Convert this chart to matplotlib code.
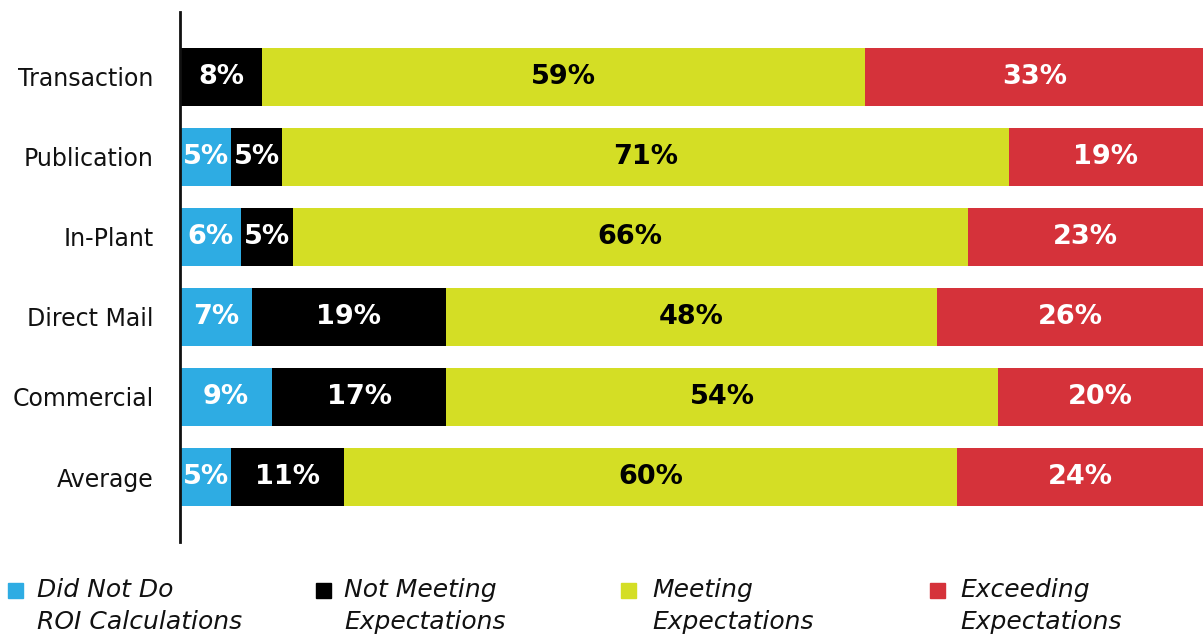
import matplotlib
matplotlib.use("Agg")
import matplotlib.pyplot as plt
from matplotlib.patches import Rectangle

categories = ["Transaction", "Publication", "In-Plant", "Direct Mail", "Commercial", "Average"]
did_not_do = [0, 5, 6, 7, 9, 5]
not_meeting = [8, 5, 5, 19, 17, 11]
meeting = [59, 71, 66, 48, 54, 60]
exceeding = [33, 19, 23, 26, 20, 24]
series_names = ["Did Not Do\nROI Calculations", "Not Meeting\nExpectations",
                "Meeting\nExpectations", "Exceeding\nExpectations"]
colors = ["#2EACE3", "#000000", "#D4DE25", "#D5323A"]
text_colors = ["white", "white", "black", "white"]

W, H = 1203, 636
fig = plt.figure(figsize=(W / 100, H / 100), dpi=100)
ax = fig.add_axes([180 / W, (H - 542) / H, 1023 / W, 530 / H])

font = "DejaVu Sans"
series = [did_not_do, not_meeting, meeting, exceeding]
n = len(categories)
ypos = [n - 1 - i for i in range(n)]
left = [0] * n
for vals, col, tcol in zip(series, colors, text_colors):
    ax.barh(ypos, vals, left=left, height=0.725, color=col, edgecolor="none")
    for y, l, v in zip(ypos, left, vals):
        if v > 0:
            ax.text(l + v / 2, y, f"{v}%", ha="center", va="center",
                    color=tcol, fontsize=19.5, fontweight="bold", family=font)
    left = [a + b for a, b in zip(left, vals)]

ax.set_xlim(0, 100)
ax.set_ylim(-0.8125, n - 1 + 0.8125)
ax.set_yticks(ypos)
ax.set_yticklabels(categories, fontsize=17, family=font, color="#111111")
ax.tick_params(axis="y", length=0, pad=19)
ax.set_xticks([])
for s in ["top", "right", "bottom"]:
    ax.spines[s].set_visible(False)
ax.spines["left"].set_linewidth(2)
ax.spines["left"].set_color("#111111")

sq_x = [8, 316, 621, 930]
txt_x = [37, 344, 652, 960]
for name, col, sx, tx in zip(series_names, colors, sq_x, txt_x):
    fig.patches.append(Rectangle((sx / W, (H - 598) / H), 15 / W, 15 / H,
                                 transform=fig.transFigure, color=col, figure=fig))
    fig.text(tx / W, (H - 578) / H, name, ha="left", va="top", fontsize=18,
             style="italic", family=font, linespacing=1.4, color="#111111")

fig.savefig("out.png", dpi=100)
